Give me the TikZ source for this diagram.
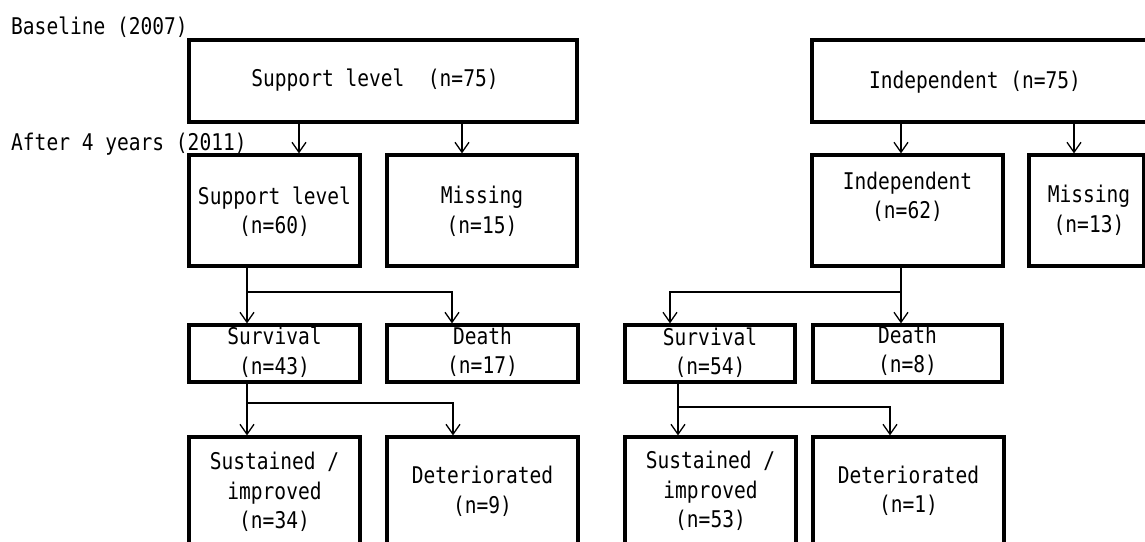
\documentclass[tikz,border=0pt]{standalone}
\usepackage{fontspec}
\usetikzlibrary{arrows.meta}
\newfontfamily\gothic{DejaVu Sans Mono}[FakeStretch=0.85]
\begin{document}
\begin{tikzpicture}[x=1pt,y=-1pt,
  box/.style={draw, line width=3.2pt, inner sep=0pt},
  lbl/.style={font=\gothic\fontsize{23}{29.5}\selectfont, align=center, inner sep=0pt},
  conn/.style={line width=1.3pt, -{Straight Barb[length=10pt,width=14pt,line width=1.3pt]}},
  line/.style={line width=1.3pt}]
\clip (0,0) rectangle (1145,541);
\fill[white] (0,0) rectangle (1145,541);

% stage labels
\node[lbl, anchor=base west] (base) at (11,34) {Baseline (2007)};
\node[lbl, anchor=base west] (after) at (11,150) {After 4 years (2011)};

% ---------- left group ----------
\node[box, minimum width=388pt, minimum height=82pt] (sl75) at (383,81) {};
\node[lbl] (sl75t) at (375,80) {Support level\ \ (n=75)};

\node[box, minimum width=171pt, minimum height=111pt] (sl60) at (274.5,210.5) {};
\node[lbl] (sl60t) at (274.5,211.5) {Support level\\(n=60)};

\node[box, minimum width=190pt, minimum height=111pt] (m15) at (482,210.5) {};
\node[lbl] (m15t) at (482,211.5) {Missing\\(n=15)};

\node[box, minimum width=171pt, minimum height=57pt] (sv43) at (274.5,353.5) {};
\node[lbl] (sv43t) at (274.5,352) {Survival\\(n=43)};

\node[box, minimum width=191pt, minimum height=57pt] (d17) at (482.5,353.5) {};
\node[lbl] (d17t) at (482.5,352) {Death\\(n=17)};

\node[box, minimum width=171pt, minimum height=123pt] (si34) at (274.5,498.5) {};
\node[lbl] (si34t) at (274.5,492) {Sustained /\\improved\\(n=34)};

\node[box, minimum width=191pt, minimum height=123pt] (de9) at (482.5,498.5) {};
\node[lbl] (de9t) at (482.5,491.5) {Deteriorated\\(n=9)};

% ---------- right group ----------
\node[box, minimum width=348pt, minimum height=82pt] (in75) at (986,81) {};
\node[lbl] (in75t) at (975,82) {Independent (n=75)};

\node[box, minimum width=191pt, minimum height=111pt] (in62) at (907.5,210.5) {};
\node[lbl] (in62t) at (907.5,197) {Independent\\(n=62)};

\node[box, minimum width=115pt, minimum height=111pt] (m13) at (1086.5,210.5) {};
\node[lbl] (m13t) at (1089,210.5) {Missing\\(n=13)};

\node[box, minimum width=170pt, minimum height=57pt] (sv54) at (710,353.5) {};
\node[lbl] (sv54t) at (710,352.5) {Survival\\(n=54)};

\node[box, minimum width=189pt, minimum height=57pt] (d8) at (907.5,353.5) {};
\node[lbl] (d8t) at (907.5,351) {Death\\(n=8)};

\node[box, minimum width=171pt, minimum height=123pt] (si53) at (710.5,498.5) {};
\node[lbl] (si53t) at (710.5,491) {Sustained /\\improved\\(n=53)};

\node[box, minimum width=191pt, minimum height=123pt] (de1) at (908.5,498.5) {};
\node[lbl] (de1t) at (908.5,491) {Deteriorated\\(n=1)};

% ---------- connector coordinates ----------
\coordinate (xa) at (299,0);
\coordinate (xb) at (462,0);
\coordinate (xc) at (247,0);
\coordinate (j1) at (247,292);
\coordinate (j1e) at (452,292);
\coordinate (j2) at (247,403);
\coordinate (j2e) at (453,403);
\coordinate (xd) at (901,0);
\coordinate (xe) at (1074,0);
\coordinate (j3) at (901,292);
\coordinate (j3e) at (670,292);
\coordinate (xf) at (678,0);
\coordinate (j4) at (678,407);
\coordinate (j4e) at (890,407);

% ---------- connectors left ----------
\draw[conn] (sl75.south -| xa) -- (sl60.north -| xa);
\draw[conn] (sl75.south -| xb) -- (m15.north -| xb);
\draw[conn] (sl60.south -| xc) -- (sv43.north -| xc);
\draw[conn] (j1) -- (j1e) -- (d17.north -| j1e);
\draw[conn] (sv43.south -| xc) -- (si34.north -| xc);
\draw[conn] (j2) -- (j2e) -- (de9.north -| j2e);

% ---------- connectors right ----------
\draw[conn] (in75.south -| xd) -- (in62.north -| xd);
\draw[conn] (in75.south -| xe) -- (m13.north -| xe);
\draw[conn] (in62.south -| xd) -- (d8.north -| xd);
\draw[conn] (j3) -- (j3e) -- (sv54.north -| j3e);
\draw[conn] (sv54.south -| xf) -- (si53.north -| xf);
\draw[conn] (j4) -- (j4e) -- (de1.north -| j4e);
\end{tikzpicture}
\end{document}
